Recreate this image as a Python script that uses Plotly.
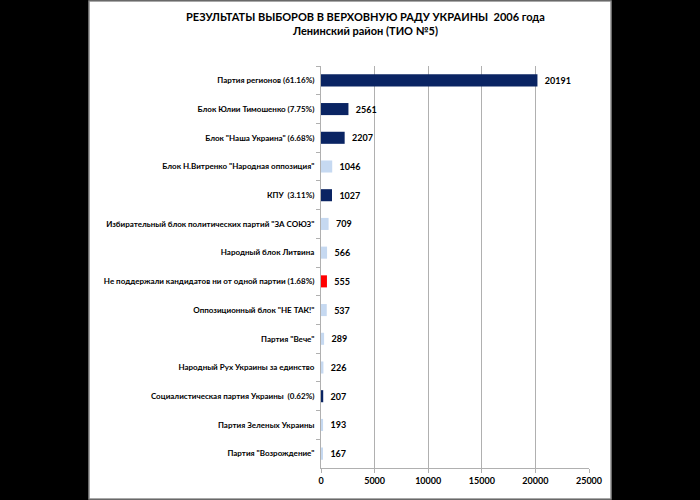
import plotly.graph_objects as go

parties = [
    "Партия регионов (61.16%)",
    "Блок Юлии Тимошенко (7.75%)",
    "Блок \"Наша Украина\" (6.68%)",
    "Блок Н.Витренко \"Народная оппозиция\"",
    "КПУ  (3.11%)",
    "Избирательный блок политических партий \"ЗА СОЮЗ\"",
    "Народный блок Литвина",
    "Не поддержали кандидатов ни от одной партии (1.68%)",
    "Оппозиционный блок \"НЕ ТАК!\"",
    "Партия \"Вече\"",
    "Народный Рух Украины за единство",
    "Социалистическая партия Украины  (0.62%)",
    "Партия Зеленых Украины",
    "Партия \"Возрождение\"",
]
votes = [20191, 2561, 2207, 1046, 1027, 709, 566, 555, 537, 289, 226, 207, 193, 167]
groups = ["passed", "passed", "passed", "other", "passed", "other", "other",
          "against", "other", "other", "other", "passed", "other", "other"]
group_colors = {"passed": "#0A2463", "other": "#C6D9F1", "against": "#FF0000"}
x_ticks = [0, 5000, 10000, 15000, 20000, 25000]
title_lines = ["РЕЗУЛЬТАТЫ ВЫБОРОВ В ВЕРХОВНУЮ РАДУ УКРАИНЫ  2006 года",
               "Ленинский район (ТИО №5)"]

W, H = 700, 500
L, R, T, B = 321, 111, 66, 32
pw, ph = W - L - R, H - T - B

def px_x(p):
    return (p - L) / pw

def px_y(p):
    return (H - B - p) / ph

fig = go.Figure()
fig.add_trace(go.Bar(
    x=votes, y=parties, orientation="h",
    marker=dict(color=[group_colors[g] for g in groups], line=dict(width=0)),
    width=0.42,
    text=[str(v) for v in votes], texttemplate="  %{text}", textposition="outside",
    textfont=dict(family="Lato", size=9, color="#000000", weight="bold"),
    cliponaxis=False,
))

fig.add_shape(type="rect", xref="paper", yref="paper",
              x0=px_x(89), x1=px_x(611), y0=px_y(499), y1=px_y(1),
              fillcolor="white", line=dict(color="#8c8c8c", width=1.5), layer="below")

fig.add_annotation(
    text="<b>" + "<br>".join(title_lines) + "</b>",
    xref="paper", yref="paper", x=px_x(365), y=px_y(8),
    xanchor="center", yanchor="top", showarrow=False, align="center",
    font=dict(family="Lato", size=11, color="#000000"),
)

fig.update_layout(
    width=W, height=H,
    margin=dict(l=L, r=R, t=T, b=B),
    paper_bgcolor="black", plot_bgcolor="white",
    showlegend=False,
    font=dict(family="Lato", color="#000000"),
)
fig.update_xaxes(
    range=[0, 25000], tickvals=x_ticks, ticktext=[str(t) for t in x_ticks],
    showgrid=True, gridcolor="#b0b0b0", gridwidth=1,
    showline=True, linecolor="#b0b0b0", ticks="outside", ticklen=4, tickcolor="#b0b0b0",
    tickfont=dict(family="Lato", size=9, color="#000000", weight="bold"), zeroline=False,
)
fig.update_yaxes(
    type="category", autorange="reversed",
    showline=True, linecolor="#b0b0b0", ticks="outside", ticklen=4, tickcolor="#b0b0b0",
    tickson="boundaries", showgrid=False,
    tickfont=dict(family="Lato", size=8, color="#000000", weight="bold"), ticklabelstandoff=4,
)

fig.write_html("out.html", config={"displayModeBar": False},
               post_script="document.body.style.margin='0';document.body.style.background='black';")
